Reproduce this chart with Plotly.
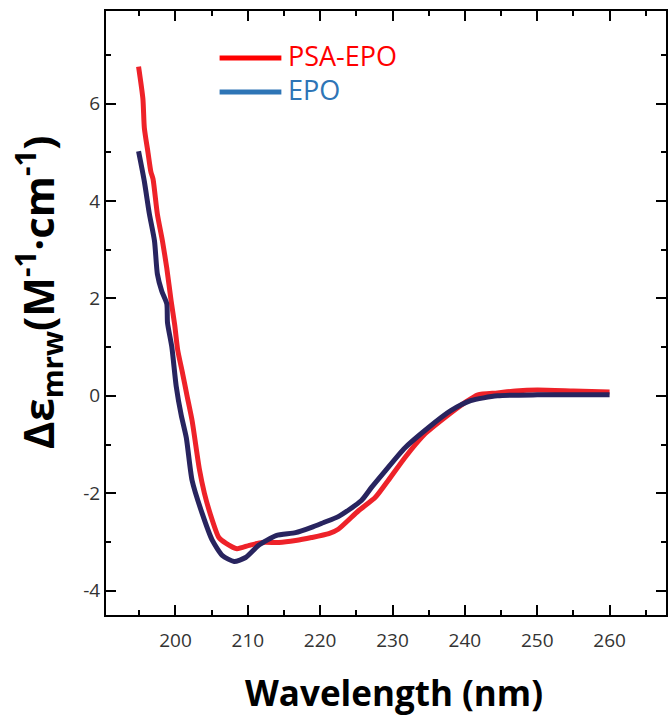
import plotly.graph_objects as go

# PSA-EPO (red) readings
psa_wl = [194.9, 195.5, 195.7, 196.2, 196.6, 196.9, 197.5, 198.2, 198.8, 199.4, 199.9, 200.3, 201.0, 201.6,
          202.3, 203.3, 204.0, 204.8, 206.0, 207.0, 208.5, 210.2, 212.0, 214.3, 216.6, 218.8, 221.2, 222.5,
          225.3, 227.6, 229.4, 231.7, 234.5, 237.2, 240.0, 241.8, 244.5, 247.0, 250.0, 255.0, 260.0]
psa_val = [6.76, 6.1, 5.5, 5.0, 4.6, 4.45, 3.73, 3.18, 2.62, 1.95, 1.45, 0.95, 0.45, 0.0,
           -0.51, -1.5, -2.0, -2.42, -2.91, -3.03, -3.14, -3.07, -3.01, -3.01, -2.97, -2.91, -2.83, -2.74,
           -2.36, -2.09, -1.74, -1.27, -0.78, -0.45, -0.14, 0.02, 0.06, 0.10, 0.12, 0.10, 0.08]

# EPO (navy) readings
epo_wl = [194.9, 195.7, 196.4, 197.1, 197.5, 198.1, 198.8, 198.9, 199.5, 200.1, 200.8, 201.5, 202.3,
          203.7, 205.1, 206.5, 208.1, 209.7, 211.5, 213.9, 216.6, 218.8, 220.5, 222.5, 225.7, 227.1,
          229.0, 231.7, 234.9, 238.0, 240.8, 244.5, 250.0, 260.0]
epo_val = [5.02, 4.4, 3.73, 3.18, 2.5, 2.15, 1.89, 1.5, 1.0, 0.2, -0.4, -0.86, -1.74,
           -2.42, -2.97, -3.28, -3.40, -3.32, -3.07, -2.87, -2.81, -2.70, -2.60, -2.48, -2.15, -1.88,
           -1.54, -1.07, -0.66, -0.31, -0.10, 0.0, 0.02, 0.02]

x_tickvals = [200, 210, 220, 230, 240, 250, 260]
x_ticktext = ["200", "210", "220", "230", "240", "250", "260"]
x_minor = [195, 205, 215, 225, 235, 245, 255, 265]
y_tickvals = [-4, -2, 0, 2, 4, 6]
y_ticktext = ["-4", "-2", "0", "2", "4", "6"]
y_minor = [-3, -1, 1, 3, 5, 7]

X_RANGE = [190.4, 267.8]
Y_RANGE = [-4.5, 7.9]

RED = "#EE2229"
NAVY = "#28245F"
LEG_BLUE = "#2E75B6"
FONT = "Open Sans"

fig = go.Figure()
fig.add_trace(go.Scatter(x=psa_wl, y=psa_val, mode="lines", name="PSA-EPO",
                         line=dict(color=RED, width=5, shape="spline", smoothing=0.6)))
fig.add_trace(go.Scatter(x=epo_wl, y=epo_val, mode="lines", name="EPO",
                         line=dict(color=NAVY, width=5, shape="spline", smoothing=0.6)))

tick_font = dict(family=FONT, size=19, color="#333333")

fig.update_layout(
    xaxis=dict(range=X_RANGE, tickmode="array", tickvals=x_tickvals, ticktext=x_ticktext,
               showline=True, linewidth=2, linecolor="black", mirror="allticks",
               ticks="inside", ticklen=10, tickwidth=2, tickcolor="black",
               showgrid=False, zeroline=False, tickfont=tick_font, ticklabelstandoff=7),
    yaxis=dict(range=Y_RANGE, tickmode="array", tickvals=y_tickvals, ticktext=y_ticktext,
               showline=True, linewidth=2, linecolor="black", mirror="allticks",
               ticks="inside", ticklen=10, tickwidth=2, tickcolor="black",
               showgrid=False, zeroline=False, tickfont=tick_font, ticksuffix="  "),
    # overlay axes carrying the short (minor) ticks
    xaxis2=dict(range=X_RANGE, overlaying="x", side="bottom", anchor="y", tickmode="array",
                tickvals=x_minor, showticklabels=False, mirror="allticks", showline=False,
                ticks="inside", ticklen=5, tickwidth=2, tickcolor="black",
                showgrid=False, zeroline=False),
    yaxis2=dict(range=Y_RANGE, overlaying="y", side="left", anchor="x", tickmode="array",
                tickvals=y_minor, showticklabels=False, mirror="allticks", showline=False,
                ticks="inside", ticklen=5, tickwidth=2, tickcolor="black",
                showgrid=False, zeroline=False),
)
# invisible trace to activate the overlay axes
fig.add_trace(go.Scatter(x=[X_RANGE[0]], y=[Y_RANGE[0]], xaxis="x2", yaxis="y2", mode="markers",
                         marker=dict(opacity=0), hoverinfo="skip", showlegend=False))

W, H = 670, 718
L, R, T, B = 106, 2, 11, 103
pw, ph = W - L - R, H - T - B

def px(xp):
    return (xp - L) / pw

def py(yp):
    return (H - B - yp) / ph

# legend (manual, matching reference colours)
fig.add_shape(type="line", xref="paper", yref="paper", x0=px(220), x1=px(282), y0=py(58), y1=py(58),
              line=dict(color="#FF0000", width=5))
fig.add_shape(type="line", xref="paper", yref="paper", x0=px(220), x1=px(282), y0=py(92), y1=py(92),
              line=dict(color=LEG_BLUE, width=5))
fig.add_annotation(xref="paper", yref="paper", x=px(287), y=py(56), xanchor="left", yanchor="middle",
                   text="PSA-EPO", showarrow=False, font=dict(family=FONT, size=27, color="#FF0000"))
fig.add_annotation(xref="paper", yref="paper", x=px(287), y=py(89), xanchor="left", yanchor="middle",
                   text="EPO", showarrow=False, font=dict(family=FONT, size=27, color=LEG_BLUE))

# axis titles
fig.add_annotation(xref="paper", yref="paper", x=px(395), y=py(693), xanchor="center", yanchor="middle",
                   text="<b>Wavelength (nm)</b>", showarrow=False,
                   font=dict(family=FONT, size=35, color="black"))
fig.add_annotation(xref="paper", yref="paper", x=px(38), y=py(292), xanchor="center", yanchor="middle",
                   textangle=-90,
                   text="<b>Δε<sub>mrw</sub>(M<sup>-1</sup>·cm<sup>-1</sup>)</b>", showarrow=False,
                   font=dict(family=FONT, size=42, color="black"))

fig.update_layout(width=W, height=H, margin=dict(l=L, r=R, t=T, b=B),
                  paper_bgcolor="white", plot_bgcolor="white", showlegend=False)

fig.write_html("out.html", config={"displayModeBar": False, "staticPlot": True},
               post_script="document.body.style.margin='0';document.body.style.overflow='hidden';")
